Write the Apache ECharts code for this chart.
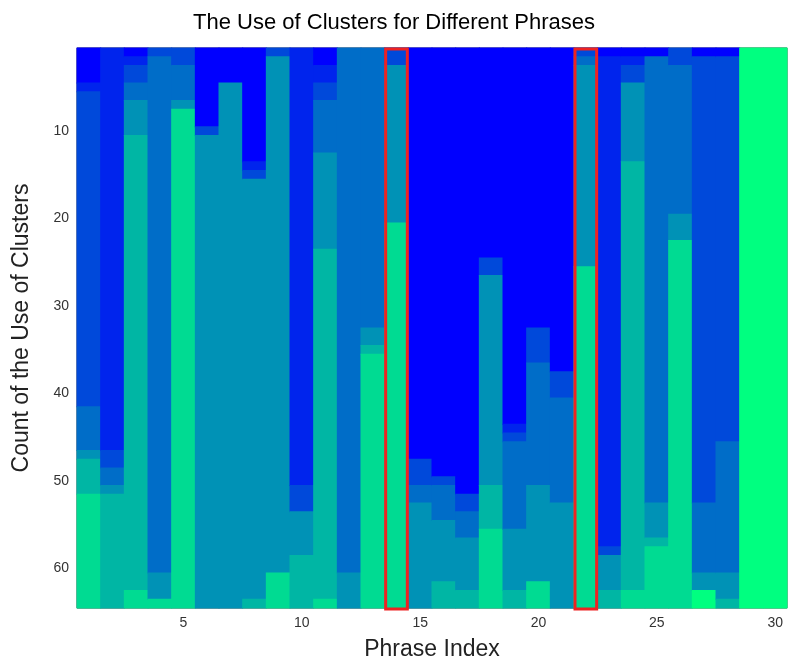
<!DOCTYPE html>
<html>
<head>
<meta charset="utf-8">
<script src="https://cdn.jsdelivr.net/npm/echarts@6/dist/echarts.min.js"></script>
<style>html,body{margin:0;padding:0;background:#fff}#container{width:788px;height:666px}</style>
</head>
<body>
<div id="container"></div>
<script>
// Rows per column for each cluster level (0 = first cluster, 7 = last), top to bottom
const level0 = [4,0,1,0,0,9,4,13,0,0,2,0,0,0,47,49,51,24,43,32,37,0,1,1,1,0,1,1,0,0];
const level1 = [1,46,1,0,0,0,0,1,0,50,2,0,0,0,0,0,0,0,1,0,0,0,56,1,0,0,0,0,0,0];
const level2 = [36,2,2,1,2,1,0,1,1,3,2,0,0,2,3,1,2,2,1,4,3,1,1,2,0,2,51,44,0,0];
const level3 = [5,2,2,59,4,0,0,0,0,0,6,60,32,0,2,4,3,0,10,14,12,1,0,0,51,17,8,15,0,0];
const level4 = [1,1,4,3,1,54,60,48,59,5,11,4,2,18,12,7,6,24,7,11,12,23,4,9,4,3,2,3,0,0];
const level5 = [4,13,52,0,0,0,0,1,0,6,40,0,1,0,0,3,2,5,2,0,0,0,2,49,1,0,0,1,0,0];
const level6 = [13,0,2,1,57,0,0,0,4,0,1,0,29,44,0,0,0,9,0,3,0,39,0,2,7,42,0,0,0,0];
const level7 = [0,0,0,0,0,0,0,0,0,0,0,0,0,0,0,0,0,0,0,0,0,0,0,0,0,0,2,0,64,64];
const highlighted = [14, 22];
const levelColors = ['#0000ff','#0024ed','#0049da','#006dc8','#0092b6','#00b6a4','#00db92','#00ff80'];

const phrases = Array.from({length: 30}, (_, i) => String(i + 1));
const rows = Array.from({length: 64}, (_, i) => String(i + 1));
const levels = [level0, level1, level2, level3, level4, level5, level6, level7];

// one run per (column, level): [column, first row, row count, level]
const runs = [];
phrases.forEach((p, c) => {
  let r = 0;
  levels.forEach((arr, k) => {
    if (arr[c] > 0) { runs.push([c, r, arr[c], k]); r += arr[c]; }
  });
});

const chart = echarts.init(document.getElementById('container'));
const font = 'Liberation Sans, Arial, sans-serif';
const showEvery = (step) => (i, v) => (+v) % step === 0;

chart.setOption({
  animation: false,
  title: {
    text: 'The Use of Clusters for Different Phrases', left: 'center', top: 7,
    textStyle: { fontFamily: font, fontSize: 22, fontWeight: 'normal', color: '#000' }
  },
  grid: { left: 77, right: 1, top: 48, bottom: 54, show: true, borderColor: '#333', borderWidth: 1, backgroundColor: 'transparent' },
  xAxis: {
    type: 'category', data: phrases, name: 'Phrase Index', nameLocation: 'middle', nameGap: 30,
    nameTextStyle: { fontFamily: font, fontSize: 23, color: '#222' },
    axisLine: { show: false },
    axisTick: { inside: true, alignWithLabel: true, interval: showEvery(5), length: 5, lineStyle: { color: '#222' } },
    axisLabel: { interval: showEvery(5), fontFamily: font, fontSize: 14, color: '#333', margin: 8 },
    splitLine: { show: false }
  },
  yAxis: {
    type: 'category', data: rows, inverse: true, name: 'Count of the Use of Clusters', nameLocation: 'middle', nameGap: 44,
    nameTextStyle: { fontFamily: font, fontSize: 23, color: '#222' },
    axisLine: { show: false },
    axisTick: { inside: true, alignWithLabel: true, interval: showEvery(10), length: 5, lineStyle: { color: '#222' } },
    axisLabel: { interval: showEvery(10), fontFamily: font, fontSize: 14, color: '#333', margin: 8 },
    splitLine: { show: false }
  },
  series: [
    {
      type: 'custom', z: 2,
      data: runs,
      renderItem: (params, api) => {
        const c = api.value(0), r0 = api.value(1), n = api.value(2);
        const a = api.coord([c, r0]);
        const w = api.size([1, 1]);
        return {
          type: 'rect',
          shape: { x: a[0] - w[0] / 2 - 0.5, y: a[1] - w[1] / 2 - 0.5, width: w[0] + 1, height: w[1] * n + 1 },
          style: { fill: levelColors[api.value(3)] }
        };
      }
    },
    {
      type: 'custom', z: 10,
      data: highlighted.map(p => [p - 1]),
      renderItem: (params, api) => {
        const a = api.coord([api.value(0), 0]);
        const b = api.coord([api.value(0), 63]);
        const w = api.size([1, 1]);
        return {
          type: 'rect',
          shape: { x: a[0] - w[0] / 2 + 1, y: a[1] - w[1] / 2 + 1, width: w[0] - 2, height: b[1] - a[1] + w[1] },
          style: { fill: 'none', stroke: '#ee2222', lineWidth: 3 }
        };
      }
    }
  ]
});
</script>
</body>
</html>
